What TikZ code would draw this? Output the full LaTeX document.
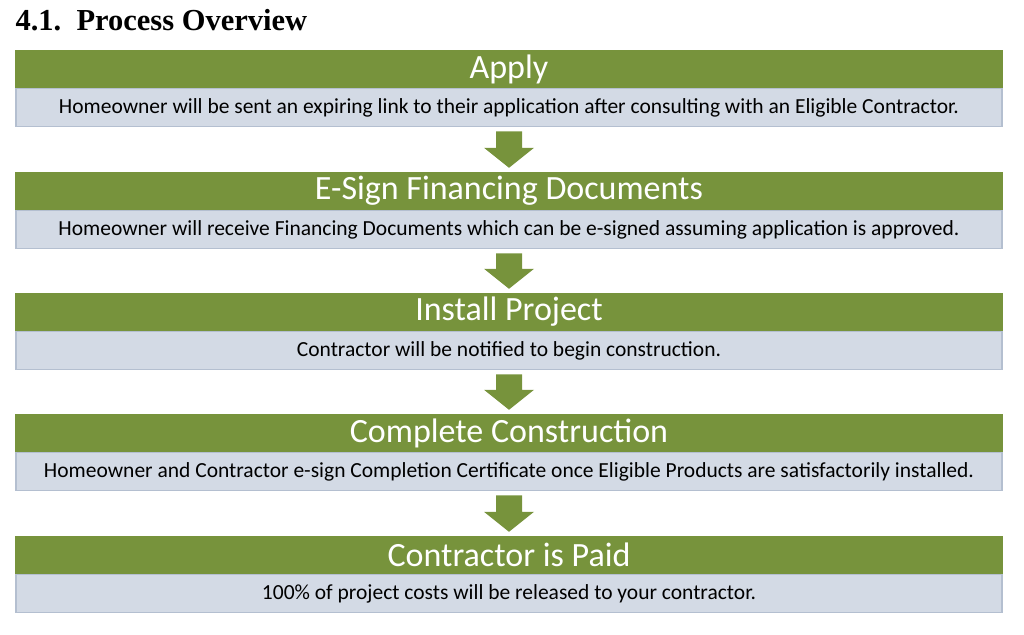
\documentclass[tikz,border=0pt]{standalone}
\usepackage{fontspec}
\setmainfont{Carlito}
\newfontfamily\titlefont{Liberation Serif}
\usetikzlibrary{positioning,calc}
\definecolor{stepgreen}{HTML}{77933C}
\definecolor{notegray}{HTML}{D3DAE5}
\definecolor{noteedge}{HTML}{B4BFD0}
\tikzset{
  head/.style={fill=stepgreen,text=white,minimum width=988pt,minimum height=38pt,
    inner sep=0pt,font=\fontsize{34}{36}\selectfont},
  note/.style={fill=notegray,draw=noteedge,line width=1.2pt,minimum width=986pt,
    minimum height=38pt,inner sep=0pt,font=\fontsize{21.5}{24}\selectfont},
  down/.style={fill=stepgreen}
}
\begin{document}
\begin{tikzpicture}[x=1pt,y=-1pt]
\useasboundingbox (0,0) rectangle (1024,634);
\node[anchor=west,font=\titlefont\bfseries\fontsize{30.5}{32}\selectfont] (title) at (12,20) {4.1.\enspace Process Overview};

\foreach \n/\y/\h/\t in {
  1/69/Apply/{Homeowner will be sent an expiring link to their application after consulting with an Eligible Contractor.},
  2/191/E-Sign Financing Documents/{Homeowner will receive Financing Documents which can be e-signed assuming application is approved.},
  3/312/Install Project/{Contractor will be notified to begin construction.},
  4/433/Complete Construction/{Homeowner and Contractor e-sign Completion Certificate once Eligible Products are satisfactorily installed.},
  5/555/Contractor is Paid/{100\% of project costs will be released to your contractor.}}{
  \node[head] (h\n) at (509,\y) {\h};
  \node[note,below=0pt of h\n] (n\n) {\t};
}

% arrows between the steps
\foreach \a/\b in {1/2,2/3,3/4,4/5}{
  \fill[down] ($(n\a.south)+(-13,4)$) -- ($(n\a.south)+(13,4)$)
    -- ($(h\b.north)+(13,-24)$) -- ($(h\b.north)+(25,-24)$)
    -- ($(h\b.north)+(0,-4)$) -- ($(h\b.north)+(-25,-24)$)
    -- ($(h\b.north)+(-13,-24)$) -- cycle;
}
\end{tikzpicture}
\end{document}
